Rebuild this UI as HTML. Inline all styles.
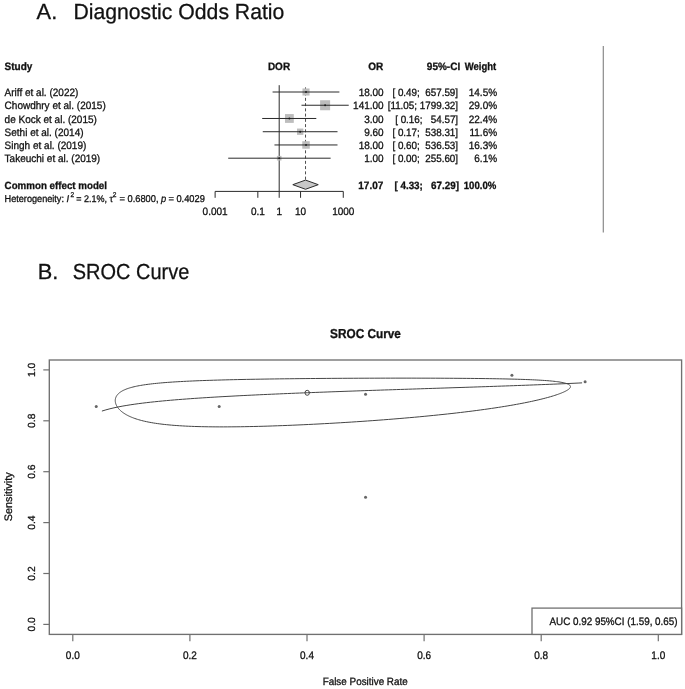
<!DOCTYPE html>
<html><head><meta charset="utf-8"><style>
html,body{margin:0;padding:0;background:#fff;width:685px;height:689px;overflow:hidden}
svg{display:block;will-change:transform}
text{font-family:"Liberation Sans", sans-serif;fill:#111;stroke:#111;stroke-width:0.28px;text-rendering:geometricPrecision}
</style></head><body>
<svg width="685" height="689" viewBox="0 0 685 689">
<text x="36.60" y="19.20" font-size="21.8" text-anchor="start" font-weight="normal" >A.</text>
<text x="73.40" y="19.20" font-size="21.8" text-anchor="start" font-weight="normal" textLength="211" lengthAdjust="spacingAndGlyphs">Diagnostic Odds Ratio</text>
<text x="37.80" y="278.80" font-size="21.8" text-anchor="start" font-weight="normal" >B.</text>
<text x="72.80" y="278.80" font-size="21.8" text-anchor="start" font-weight="normal" textLength="116.5" lengthAdjust="spacingAndGlyphs">SROC Curve</text>
<text x="4.60" y="69.72" font-size="10" text-anchor="start" font-weight="bold" transform="matrix(1 0 0 1.07 0 -4.880)" >Study</text>
<text x="279.00" y="69.72" font-size="10" text-anchor="middle" font-weight="bold" transform="matrix(1 0 0 1.07 0 -4.880)" >DOR</text>
<text x="383.30" y="69.72" font-size="10" text-anchor="end" font-weight="bold" transform="matrix(1 0 0 1.07 0 -4.880)" >OR</text>
<text x="460.20" y="69.72" font-size="10" text-anchor="end" font-weight="bold" transform="matrix(1 0 0 1.07 0 -4.880)" >95%-CI</text>
<text x="496.20" y="69.72" font-size="9.5" text-anchor="end" font-weight="bold" transform="matrix(1 0 0 1.1263157894736844 0 -8.807)" >Weight</text>
<line x1="279.20" y1="85.2" x2="279.20" y2="191.4" stroke="#2a2a2a" stroke-width="1"/>
<line x1="305.52" y1="86.0" x2="305.52" y2="180.08" stroke="#505050" stroke-width="1" stroke-dasharray="3 2.25" stroke-dashoffset="3.9"/>
<text x="4.60" y="96.10" font-size="10" text-anchor="start" font-weight="normal" transform="matrix(1 0 0 1.07 0 -6.727)" >Ariff et al. (2022)</text>
<text x="383.70" y="96.10" font-size="10" text-anchor="end" font-weight="normal" transform="matrix(1 0 0 1.07 0 -6.727)" >18.00</text>
<text x="458.10" y="96.10" font-size="9.85" text-anchor="end" font-weight="normal" transform="matrix(1 0 0 1.07 0 -6.727)" >[ 0.49;  657.59]</text>
<text x="497.10" y="96.10" font-size="10" text-anchor="end" font-weight="normal" transform="matrix(1 0 0 1.07 0 -6.727)" >14.5%</text>
<rect x="302.47" y="88.46" width="7.08" height="7.08" fill="#bdbdbd"/>
<line x1="272.58" y1="92.00" x2="339.39" y2="92.00" stroke="#2a2a2a" stroke-width="1"/>
<circle cx="306.01" cy="92.00" r="0.95" fill="#1a1a1a"/>
<text x="4.60" y="109.34" font-size="10" text-anchor="start" font-weight="normal" transform="matrix(1 0 0 1.07 0 -7.654)" >Chowdhry et al. (2015)</text>
<text x="383.70" y="109.34" font-size="10" text-anchor="end" font-weight="normal" transform="matrix(1 0 0 1.07 0 -7.654)" >141.00</text>
<text x="458.10" y="109.34" font-size="9.85" text-anchor="end" font-weight="normal" transform="matrix(1 0 0 1.07 0 -7.654)" >[11.05; 1799.32]</text>
<text x="497.10" y="109.34" font-size="10" text-anchor="end" font-weight="normal" transform="matrix(1 0 0 1.07 0 -7.654)" >29.0%</text>
<rect x="320.10" y="100.23" width="10.02" height="10.02" fill="#bdbdbd"/>
<line x1="301.49" y1="105.24" x2="348.73" y2="105.24" stroke="#2a2a2a" stroke-width="1"/>
<circle cx="325.11" cy="105.24" r="0.95" fill="#1a1a1a"/>
<text x="4.60" y="122.58" font-size="10" text-anchor="start" font-weight="normal" transform="matrix(1 0 0 1.07 0 -8.581)" >de Kock et al. (2015)</text>
<text x="383.70" y="122.58" font-size="10" text-anchor="end" font-weight="normal" transform="matrix(1 0 0 1.07 0 -8.581)" >3.00</text>
<text x="458.10" y="122.58" font-size="9.85" text-anchor="end" font-weight="normal" transform="matrix(1 0 0 1.07 0 -8.581)" >[ 0.16;   54.57]</text>
<text x="497.10" y="122.58" font-size="10" text-anchor="end" font-weight="normal" transform="matrix(1 0 0 1.07 0 -8.581)" >22.4%</text>
<rect x="284.99" y="114.08" width="8.80" height="8.80" fill="#bdbdbd"/>
<line x1="262.20" y1="118.48" x2="316.30" y2="118.48" stroke="#2a2a2a" stroke-width="1"/>
<circle cx="289.39" cy="118.48" r="0.95" fill="#1a1a1a"/>
<text x="4.60" y="135.82" font-size="10" text-anchor="start" font-weight="normal" transform="matrix(1 0 0 1.07 0 -9.507)" >Sethi et al. (2014)</text>
<text x="383.70" y="135.82" font-size="10" text-anchor="end" font-weight="normal" transform="matrix(1 0 0 1.07 0 -9.507)" >9.60</text>
<text x="458.10" y="135.82" font-size="9.85" text-anchor="end" font-weight="normal" transform="matrix(1 0 0 1.07 0 -9.507)" >[ 0.17;  538.31]</text>
<text x="497.10" y="135.82" font-size="10" text-anchor="end" font-weight="normal" transform="matrix(1 0 0 1.07 0 -9.507)" >11.6%</text>
<rect x="297.01" y="128.55" width="6.33" height="6.33" fill="#bdbdbd"/>
<line x1="262.76" y1="131.72" x2="337.53" y2="131.72" stroke="#2a2a2a" stroke-width="1"/>
<circle cx="300.18" cy="131.72" r="0.95" fill="#1a1a1a"/>
<text x="4.60" y="149.06" font-size="10" text-anchor="start" font-weight="normal" transform="matrix(1 0 0 1.07 0 -10.434)" >Singh et al. (2019)</text>
<text x="383.70" y="149.06" font-size="10" text-anchor="end" font-weight="normal" transform="matrix(1 0 0 1.07 0 -10.434)" >18.00</text>
<text x="458.10" y="149.06" font-size="9.85" text-anchor="end" font-weight="normal" transform="matrix(1 0 0 1.07 0 -10.434)" >[ 0.60;  536.53]</text>
<text x="497.10" y="149.06" font-size="10" text-anchor="end" font-weight="normal" transform="matrix(1 0 0 1.07 0 -10.434)" >16.3%</text>
<rect x="302.26" y="141.21" width="7.51" height="7.51" fill="#bdbdbd"/>
<line x1="274.46" y1="144.96" x2="337.50" y2="144.96" stroke="#2a2a2a" stroke-width="1"/>
<circle cx="306.01" cy="144.96" r="0.95" fill="#1a1a1a"/>
<text x="4.60" y="162.30" font-size="10" text-anchor="start" font-weight="normal" transform="matrix(1 0 0 1.07 0 -11.361)" >Takeuchi et al. (2019)</text>
<text x="383.70" y="162.30" font-size="10" text-anchor="end" font-weight="normal" transform="matrix(1 0 0 1.07 0 -11.361)" >1.00</text>
<text x="458.10" y="162.30" font-size="9.85" text-anchor="end" font-weight="normal" transform="matrix(1 0 0 1.07 0 -11.361)" >[ 0.00;  255.60]</text>
<text x="497.10" y="162.30" font-size="10" text-anchor="end" font-weight="normal" transform="matrix(1 0 0 1.07 0 -11.361)" >6.1%</text>
<rect x="276.90" y="155.90" width="4.59" height="4.59" fill="#bdbdbd"/>
<line x1="228.21" y1="158.20" x2="330.63" y2="158.20" stroke="#2a2a2a" stroke-width="1"/>
<circle cx="279.20" cy="158.20" r="0.95" fill="#1a1a1a"/>
<text x="4.60" y="189.08" font-size="9.75" text-anchor="start" font-weight="bold" transform="matrix(1 0 0 1.07 0 -13.236)" >Common effect model</text>
<text x="383.30" y="189.08" font-size="10" text-anchor="end" font-weight="bold" transform="matrix(1 0 0 1.07 0 -13.236)" >17.07</text>
<text x="459.00" y="189.08" font-size="9.85" text-anchor="end" font-weight="bold" transform="matrix(1 0 0 1.07 0 -13.236)" >[ 4.33;   67.29]</text>
<text x="496.30" y="189.08" font-size="9.6" text-anchor="end" font-weight="bold" transform="matrix(1 0 0 1.1145833333333335 0 -21.665)" >100.0%</text>
<polygon points="292.80,184.68 305.52,180.08 318.25,184.68 305.52,189.28" fill="#c8c8c8" stroke="#2a2a2a" stroke-width="1"/>
<text x="4.60" y="201.90" font-size="9.15" transform="matrix(1 0 0 1.07 0 -14.133)">Heterogeneity:</text>
<text x="66.60" y="201.90" font-size="9.3" font-style="italic" transform="matrix(1 0 0 1.07 0 -14.133)">I</text>
<text x="70.50" y="197.40" font-size="6.6" transform="matrix(1 0 0 1.07 0 -13.818)">2</text>
<text x="76.20" y="201.90" font-size="9.0" transform="matrix(1 0 0 1.07 0 -14.133)">= 2.1%, τ</text>
<text x="112.80" y="197.40" font-size="6.6" transform="matrix(1 0 0 1.07 0 -13.818)">2</text>
<text x="119.50" y="201.90" font-size="9.3" transform="matrix(1 0 0 1.07 0 -14.133)">= 0.6800,</text>
<text x="160.90" y="201.90" font-size="9.3" font-style="italic" transform="matrix(1 0 0 1.07 0 -14.133)">p</text>
<text x="168.40" y="201.90" font-size="9.3" transform="matrix(1 0 0 1.07 0 -14.133)">= 0.4029</text>
<line x1="215.12" y1="191.4" x2="343.28" y2="191.4" stroke="#2a2a2a" stroke-width="1"/>
<line x1="215.12" y1="191.4" x2="215.12" y2="197.8" stroke="#2a2a2a" stroke-width="1"/>
<text x="215.12" y="215.30" font-size="10" text-anchor="middle" font-weight="normal" transform="matrix(1 0 0 1.07 0 -15.071)" >0.001</text>
<line x1="257.84" y1="191.4" x2="257.84" y2="197.8" stroke="#2a2a2a" stroke-width="1"/>
<text x="257.84" y="215.30" font-size="10" text-anchor="middle" font-weight="normal" transform="matrix(1 0 0 1.07 0 -15.071)" >0.1</text>
<line x1="279.20" y1="191.4" x2="279.20" y2="197.8" stroke="#2a2a2a" stroke-width="1"/>
<text x="279.20" y="215.30" font-size="10" text-anchor="middle" font-weight="normal" transform="matrix(1 0 0 1.07 0 -15.071)" >1</text>
<line x1="300.56" y1="191.4" x2="300.56" y2="197.8" stroke="#2a2a2a" stroke-width="1"/>
<text x="300.56" y="215.30" font-size="10" text-anchor="middle" font-weight="normal" transform="matrix(1 0 0 1.07 0 -15.071)" >10</text>
<line x1="343.28" y1="191.4" x2="343.28" y2="197.8" stroke="#2a2a2a" stroke-width="1"/>
<text x="343.28" y="215.30" font-size="10" text-anchor="middle" font-weight="normal" transform="matrix(1 0 0 1.07 0 -15.071)" >1000</text>
<line x1="603.3" y1="45.9" x2="603.3" y2="232.5" stroke="#8a8a8a" stroke-width="1.2"/>
<rect x="49.3" y="360.0" width="632.3" height="274.4" fill="none" stroke="#707070" stroke-width="1.35"/>
<text x="365.50" y="337.60" font-size="11.8" text-anchor="middle" font-weight="bold" transform="matrix(1 0 0 1.1 0 -33.760)" >SROC Curve</text>
<line x1="72.80" y1="634.4" x2="72.80" y2="641.2" stroke="#707070" stroke-width="1.2"/>
<text x="72.80" y="658.60" font-size="10.0" text-anchor="middle" font-weight="normal" transform="matrix(1 0 0 1.1 0 -65.860)" >0.0</text>
<line x1="43.3" y1="624.40" x2="49.3" y2="624.40" stroke="#707070" stroke-width="1.2"/>
<text x="0.00" y="0.00" font-size="10.3" text-anchor="middle" font-weight="normal" transform="translate(35.2 624.40) rotate(-90)">0.0</text>
<line x1="189.90" y1="634.4" x2="189.90" y2="641.2" stroke="#707070" stroke-width="1.2"/>
<text x="189.90" y="658.60" font-size="10.0" text-anchor="middle" font-weight="normal" transform="matrix(1 0 0 1.1 0 -65.860)" >0.2</text>
<line x1="43.3" y1="573.50" x2="49.3" y2="573.50" stroke="#707070" stroke-width="1.2"/>
<text x="0.00" y="0.00" font-size="10.3" text-anchor="middle" font-weight="normal" transform="translate(35.2 573.50) rotate(-90)">0.2</text>
<line x1="307.00" y1="634.4" x2="307.00" y2="641.2" stroke="#707070" stroke-width="1.2"/>
<text x="307.00" y="658.60" font-size="10.0" text-anchor="middle" font-weight="normal" transform="matrix(1 0 0 1.1 0 -65.860)" >0.4</text>
<line x1="43.3" y1="522.60" x2="49.3" y2="522.60" stroke="#707070" stroke-width="1.2"/>
<text x="0.00" y="0.00" font-size="10.3" text-anchor="middle" font-weight="normal" transform="translate(35.2 522.60) rotate(-90)">0.4</text>
<line x1="424.10" y1="634.4" x2="424.10" y2="641.2" stroke="#707070" stroke-width="1.2"/>
<text x="424.10" y="658.60" font-size="10.0" text-anchor="middle" font-weight="normal" transform="matrix(1 0 0 1.1 0 -65.860)" >0.6</text>
<line x1="43.3" y1="471.70" x2="49.3" y2="471.70" stroke="#707070" stroke-width="1.2"/>
<text x="0.00" y="0.00" font-size="10.3" text-anchor="middle" font-weight="normal" transform="translate(35.2 471.70) rotate(-90)">0.6</text>
<line x1="541.20" y1="634.4" x2="541.20" y2="641.2" stroke="#707070" stroke-width="1.2"/>
<text x="541.20" y="658.60" font-size="10.0" text-anchor="middle" font-weight="normal" transform="matrix(1 0 0 1.1 0 -65.860)" >0.8</text>
<line x1="43.3" y1="420.80" x2="49.3" y2="420.80" stroke="#707070" stroke-width="1.2"/>
<text x="0.00" y="0.00" font-size="10.3" text-anchor="middle" font-weight="normal" transform="translate(35.2 420.80) rotate(-90)">0.8</text>
<line x1="658.30" y1="634.4" x2="658.30" y2="641.2" stroke="#707070" stroke-width="1.2"/>
<text x="658.30" y="658.60" font-size="10.0" text-anchor="middle" font-weight="normal" transform="matrix(1 0 0 1.1 0 -65.860)" >1.0</text>
<line x1="43.3" y1="369.90" x2="49.3" y2="369.90" stroke="#707070" stroke-width="1.2"/>
<text x="0.00" y="0.00" font-size="10.3" text-anchor="middle" font-weight="normal" transform="translate(35.2 369.90) rotate(-90)">1.0</text>
<text x="0.00" y="0.00" font-size="10.85" text-anchor="middle" font-weight="normal" transform="translate(11.8 496.8) rotate(-90)">Sensitivity</text>
<text x="365.20" y="684.60" font-size="9.9" text-anchor="middle" font-weight="normal" transform="matrix(1 0 0 1.07 0 -47.922)" >False Positive Rate</text>
<rect x="532" y="608.1" width="149.6" height="26.3" fill="#fff" stroke="#707070" stroke-width="1.3"/>
<text x="549.50" y="625.10" font-size="9.85" text-anchor="start" font-weight="normal" transform="matrix(1 0 0 1.09 0 -56.259)" >AUC 0.92 95%CI (1.59, 0.65)</text>
<path d="M115.62,403.22 L115.49,402.73 L115.39,402.23 L115.32,401.74 L115.27,401.25 L115.25,400.76 L115.26,400.28 L115.29,399.80 L115.35,399.33 L115.43,398.86 L115.54,398.39 L115.67,397.93 L115.83,397.48 L116.02,397.03 L116.23,396.58 L116.47,396.14 L116.74,395.71 L117.03,395.28 L117.36,394.85 L117.71,394.43 L118.09,394.02 L118.50,393.61 L118.94,393.21 L119.41,392.82 L119.92,392.43 L120.45,392.05 L121.02,391.67 L121.62,391.30 L122.26,390.93 L122.93,390.57 L123.63,390.22 L124.38,389.88 L125.16,389.54 L125.98,389.20 L126.84,388.87 L127.74,388.55 L128.68,388.24 L129.67,387.93 L130.70,387.63 L131.77,387.33 L132.90,387.04 L134.07,386.75 L135.29,386.47 L136.56,386.20 L137.89,385.93 L139.27,385.67 L140.70,385.42 L142.19,385.17 L143.74,384.92 L145.35,384.68 L147.03,384.45 L148.76,384.22 L150.56,384.00 L152.43,383.78 L154.37,383.57 L156.37,383.36 L158.45,383.16 L160.60,382.96 L162.83,382.77 L165.13,382.59 L167.51,382.40 L169.98,382.23 L172.52,382.06 L175.15,381.89 L177.86,381.72 L180.65,381.57 L183.53,381.41 L186.50,381.26 L189.56,381.12 L192.71,380.97 L195.95,380.84 L199.29,380.70 L202.71,380.57 L206.23,380.45 L209.83,380.33 L213.54,380.21 L217.33,380.10 L221.22,379.99 L225.19,379.88 L229.26,379.78 L233.42,379.68 L237.66,379.58 L242.00,379.49 L246.41,379.40 L250.92,379.32 L255.50,379.24 L260.16,379.16 L264.90,379.08 L269.71,379.01 L274.59,378.94 L279.53,378.87 L284.54,378.81 L289.61,378.75 L294.73,378.69 L299.90,378.64 L305.11,378.59 L310.37,378.54 L315.67,378.49 L320.99,378.45 L326.34,378.41 L331.71,378.37 L337.10,378.34 L342.50,378.31 L347.90,378.28 L353.30,378.25 L358.69,378.23 L364.08,378.21 L369.45,378.19 L374.79,378.18 L380.11,378.16 L385.39,378.15 L390.64,378.15 L395.85,378.14 L401.01,378.14 L406.12,378.14 L411.18,378.14 L416.17,378.15 L421.11,378.16 L425.97,378.17 L430.77,378.18 L435.50,378.20 L440.14,378.21 L444.72,378.24 L449.21,378.26 L453.61,378.29 L457.94,378.32 L462.17,378.35 L466.32,378.38 L470.38,378.42 L474.35,378.46 L478.23,378.50 L482.01,378.55 L485.71,378.60 L489.31,378.65 L492.82,378.71 L496.24,378.76 L499.56,378.82 L502.80,378.89 L505.94,378.95 L508.99,379.02 L511.95,379.10 L514.82,379.17 L517.61,379.25 L520.31,379.34 L522.92,379.42 L525.44,379.51 L527.88,379.60 L530.24,379.70 L532.52,379.80 L534.72,379.90 L536.84,380.01 L538.88,380.12 L540.84,380.24 L542.74,380.35 L544.55,380.48 L546.30,380.60 L547.97,380.73 L549.57,380.87 L551.11,381.01 L552.58,381.15 L553.98,381.29 L555.32,381.45 L556.59,381.60 L557.81,381.76 L558.96,381.92 L560.05,382.09 L561.08,382.27 L562.05,382.44 L562.97,382.63 L563.83,382.82 L564.63,383.01 L565.38,383.21 L566.08,383.41 L566.72,383.62 L567.31,383.83 L567.85,384.05 L568.33,384.27 L568.77,384.50 L569.15,384.74 L569.49,384.98 L569.77,385.22 L570.01,385.47 L570.19,385.73 L570.33,385.99 L570.42,386.26 L570.46,386.54 L570.45,386.82 L570.39,387.10 L570.28,387.39 L570.13,387.69 L569.92,388.00 L569.67,388.31 L569.37,388.62 L569.01,388.95 L568.61,389.28 L568.16,389.61 L567.65,389.95 L567.09,390.30 L566.48,390.65 L565.82,391.01 L565.11,391.38 L564.34,391.75 L563.51,392.13 L562.63,392.51 L561.69,392.91 L560.70,393.30 L559.65,393.70 L558.53,394.11 L557.36,394.53 L556.12,394.95 L554.83,395.37 L553.46,395.80 L552.04,396.24 L550.54,396.68 L548.98,397.13 L547.35,397.58 L545.65,398.04 L543.88,398.50 L542.04,398.96 L540.12,399.43 L538.13,399.91 L536.05,400.39 L533.91,400.87 L531.68,401.36 L529.37,401.85 L526.98,402.34 L524.51,402.84 L521.95,403.34 L519.31,403.84 L516.58,404.34 L513.76,404.85 L510.85,405.35 L507.86,405.86 L504.77,406.37 L501.60,406.89 L498.33,407.40 L494.97,407.91 L491.52,408.42 L487.97,408.93 L484.34,409.44 L480.61,409.95 L476.79,410.46 L472.87,410.97 L468.87,411.47 L464.78,411.98 L460.60,412.48 L456.33,412.97 L451.97,413.47 L447.54,413.96 L443.01,414.44 L438.41,414.92 L433.74,415.40 L428.98,415.87 L424.16,416.34 L419.27,416.80 L414.31,417.25 L409.29,417.70 L404.22,418.14 L399.09,418.57 L393.91,418.99 L388.68,419.41 L383.42,419.82 L378.12,420.22 L372.79,420.61 L367.44,420.99 L362.07,421.36 L356.68,421.72 L351.28,422.08 L345.88,422.42 L340.48,422.75 L335.08,423.07 L329.70,423.38 L324.34,423.67 L319.00,423.96 L313.68,424.23 L308.40,424.49 L303.16,424.74 L297.96,424.97 L292.81,425.20 L287.70,425.41 L282.66,425.60 L277.67,425.78 L272.75,425.95 L267.90,426.11 L263.12,426.25 L258.41,426.38 L253.78,426.49 L249.22,426.59 L244.75,426.68 L240.37,426.75 L236.07,426.80 L231.85,426.84 L227.73,426.87 L223.69,426.89 L219.75,426.88 L215.90,426.87 L212.14,426.84 L208.47,426.79 L204.90,426.73 L201.42,426.66 L198.03,426.57 L194.73,426.47 L191.53,426.35 L188.41,426.22 L185.38,426.08 L182.45,425.92 L179.60,425.74 L176.83,425.56 L174.15,425.36 L171.56,425.15 L169.05,424.92 L166.61,424.68 L164.26,424.43 L161.99,424.17 L159.79,423.89 L157.66,423.61 L155.61,423.31 L153.63,423.00 L151.72,422.67 L149.88,422.34 L148.10,422.00 L146.39,421.64 L144.74,421.28 L143.16,420.91 L141.63,420.52 L140.16,420.13 L138.74,419.73 L137.39,419.32 L136.08,418.90 L134.83,418.47 L133.63,418.04 L132.47,417.60 L131.37,417.15 L130.31,416.69 L129.29,416.23 L128.32,415.77 L127.40,415.29 L126.51,414.82 L125.67,414.33 L124.86,413.85 L124.09,413.36 L123.37,412.86 L122.67,412.37 L122.02,411.87 L121.39,411.36 L120.80,410.86 L120.25,410.35 L119.73,409.84 L119.23,409.33 L118.77,408.82 L118.35,408.31 L117.95,407.80 L117.57,407.28 L117.23,406.77 L116.92,406.26 L116.64,405.75 L116.38,405.24 L116.15,404.73 L115.94,404.23 L115.77,403.73 L115.62,403.22 Z" fill="none" stroke="#444" stroke-width="1"/>
<path d="M101.90,411.08 L105.94,409.85 L109.97,408.77 L114.01,407.82 L118.04,406.97 L122.08,406.20 L126.11,405.50 L130.15,404.85 L134.18,404.26 L138.22,403.70 L142.25,403.18 L146.29,402.69 L150.32,402.23 L154.36,401.80 L158.39,401.39 L162.43,400.99 L166.46,400.62 L170.50,400.26 L174.54,399.92 L178.57,399.59 L182.61,399.28 L186.64,398.97 L190.68,398.68 L194.71,398.39 L198.75,398.12 L202.78,397.85 L206.82,397.60 L210.85,397.34 L214.89,397.10 L218.92,396.86 L222.96,396.63 L226.99,396.41 L231.03,396.19 L235.06,395.97 L239.10,395.76 L243.14,395.56 L247.17,395.36 L251.21,395.16 L255.24,394.97 L259.28,394.78 L263.31,394.59 L267.35,394.41 L271.38,394.23 L275.42,394.05 L279.45,393.88 L283.49,393.70 L287.52,393.54 L291.56,393.37 L295.59,393.20 L299.63,393.04 L303.66,392.88 L307.70,392.72 L311.74,392.57 L315.77,392.41 L319.81,392.26 L323.84,392.11 L327.88,391.96 L331.91,391.81 L335.95,391.66 L339.98,391.52 L344.02,391.37 L348.05,391.23 L352.09,391.09 L356.12,390.95 L360.16,390.81 L364.19,390.67 L368.23,390.53 L372.26,390.39 L376.30,390.26 L380.34,390.12 L384.37,389.98 L388.41,389.85 L392.44,389.72 L396.48,389.58 L400.51,389.45 L404.55,389.32 L408.58,389.18 L412.62,389.05 L416.65,388.92 L420.69,388.79 L424.72,388.65 L428.76,388.52 L432.79,388.39 L436.83,388.26 L440.86,388.13 L444.90,388.00 L448.94,387.86 L452.97,387.73 L457.01,387.60 L461.04,387.47 L465.08,387.33 L469.11,387.20 L473.15,387.07 L477.18,386.93 L481.22,386.79 L485.25,386.66 L489.29,386.52 L493.32,386.38 L497.36,386.24 L501.39,386.10 L505.43,385.96 L509.46,385.82 L513.50,385.68 L517.54,385.53 L521.57,385.38 L525.61,385.24 L529.64,385.09 L533.68,384.93 L537.71,384.78 L541.75,384.62 L545.78,384.46 L549.82,384.30 L553.85,384.14 L557.89,383.97 L561.92,383.80 L565.96,383.62 L569.99,383.44 L574.03,383.26 L578.06,383.07 L582.10,382.87" fill="none" stroke="#444" stroke-width="1"/>
<circle cx="96.22" cy="406.46" r="1.5" fill="#666"/>
<circle cx="219.18" cy="406.46" r="1.5" fill="#666"/>
<circle cx="365.55" cy="394.28" r="1.5" fill="#666"/>
<circle cx="365.55" cy="497.35" r="1.5" fill="#666"/>
<circle cx="511.93" cy="375.19" r="1.5" fill="#666"/>
<circle cx="585.11" cy="381.81" r="1.5" fill="#666"/>
<ellipse cx="307.2" cy="392.8" rx="2.2" ry="2.5" fill="none" stroke="#444" stroke-width="1"/>


</svg>
</body></html>
